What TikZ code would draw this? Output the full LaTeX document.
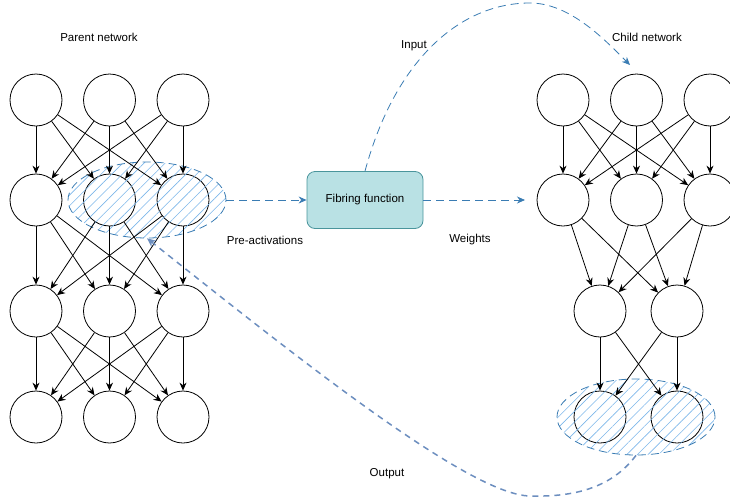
\documentclass[tikz,border=0pt]{standalone}
\usepackage{fontspec}
\setmainfont{Liberation Sans}
\usetikzlibrary{arrows.meta}
\usetikzlibrary{shapes.geometric, patterns.meta}
\usetikzlibrary{positioning}

\definecolor{linkblue}{HTML}{3A7CB3}
\definecolor{outblue}{HTML}{6C8EBF}
\definecolor{hatchblue}{HTML}{7DB7EA}
\definecolor{fibfill}{HTML}{B9E1E4}
\definecolor{fibdraw}{HTML}{4A959C}

\begin{document}
\begin{tikzpicture}[
    x=1pt, y=-1pt,
    neuron/.style={circle, draw, fill=white, minimum size=52pt, inner sep=0pt, line width=0.8pt},
    hatched/.style={ellipse, draw=linkblue, dash pattern=on 8pt off 5pt, line width=0.8pt,
        minimum width=158pt, minimum height=76pt,
        pattern={Lines[angle=45, distance=7.5pt, line width=0.6pt]}, pattern color=hatchblue},
    fibbox/.style={rectangle, rounded corners=8pt, draw=fibdraw, fill=fibfill, line width=0.8pt,
        minimum width=116pt, minimum height=57pt, font=\fontsize{11.5}{14}\selectfont},
    txt/.style={font=\fontsize{11.5}{14}\selectfont},
    link/.style={linkblue, line width=0.8pt, dash pattern=on 8pt off 5pt},
    >=stealth
]
\useasboundingbox (0,0) rectangle (730,498);

% --- Titles ---
\node[txt] (parenttitle) at (99,37) {Parent network};
\node[txt] (childtitle) at (647,37) {Child network};

% --- Parent network (4 layers of 3 neurons) ---
\foreach \r/\y in {1/100,2/200,3/311,4/417}
    \foreach \i in {1,2,3}
        \node[neuron] (p\r\i) at ({36+(\i-1)*73.5},\y) {};

% --- Child network, first two layers (3 neurons) ---
\foreach \r/\y in {1/100,2/200}
    \foreach \i in {1,2,3}
        \node[neuron] (c\r\i) at ({563+(\i-1)*73.5},\y) {};

% --- Child network, last two layers (2 neurons) ---
\foreach \r/\y in {3/311,4/417}
    \foreach \i in {1,2}
        \node[neuron] (c\r\i) at ({600+(\i-1)*77},\y) {};

% --- Hatched groups ---
\node[hatched] (preact) at (147,200) {};
\node[hatched] (childout) at (636,417) {};

% --- Fully connect parent layers ---
\foreach \r/\s in {1/2,2/3,3/4}
{
    \foreach \i in {1,2,3}
    {
        \foreach \j in {1,2,3}
        {
            \draw[line width=0.8pt, -{Stealth[length=8pt, width=7pt]}] (p\r\i) -- (p\s\j);
        }
    }
}

% --- Fully connect child layers 1 to 2 ---
\foreach \i in {1,2,3}
{
    \foreach \j in {1,2,3}
    {
        \draw[line width=0.8pt, -{Stealth[length=8pt, width=7pt]}] (c1\i) -- (c2\j);
    }
}

% --- Child layers 2 to 3 ---
\foreach \i in {1,2,3}
{
    \foreach \j in {1,2}
    {
        \draw[line width=0.8pt, -{Stealth[length=8pt, width=7pt]}] (c2\i) -- (c3\j);
    }
}

% --- Child layers 3 to 4 ---
\foreach \i in {1,2}
{
    \foreach \j in {1,2}
    {
        \draw[line width=0.8pt, -{Stealth[length=8pt, width=7pt]}] (c3\i) -- (c4\j);
    }
}

% --- Fibring function ---
\node[fibbox] (fib) at (365,200) {Fibring function};

\node[txt] (prelbl) at (265,240) {Pre-activations};
\node[txt] (wlbl) at (470,240) {Weights};
\node[txt] (inlbl) at (414,46) {Input};
\node[txt] (outlbl) at (387,474) {Output};

% --- Dashed links ---
\coordinate (wend) at (525,200);
\coordinate (inpeak) at (530,3);
\coordinate (inend) at (630,65);
\coordinate (outdip) at (530,496);

\draw[link, -{Stealth[length=8pt, width=7pt]}] (preact.east) -- (fib.west);
\draw[link, -{Stealth[length=8pt, width=7pt]}] (fib.east) -- (wend);
\draw[link, -{Stealth[length=8pt, width=7pt]}] (fib.north)
    .. controls (395,60) and (460,3) .. (inpeak)
    .. controls (570,3) and (605,40) .. (inend);
\draw[outblue, line width=1.5pt, dash pattern=on 6pt off 5pt, -{Stealth[length=9pt, width=8pt]}] (childout.south)
    .. controls (610,490) and (570,497) .. (outdip)
    .. controls (470,495) and (300,360) .. (preact.south);

\end{tikzpicture}
\end{document}
